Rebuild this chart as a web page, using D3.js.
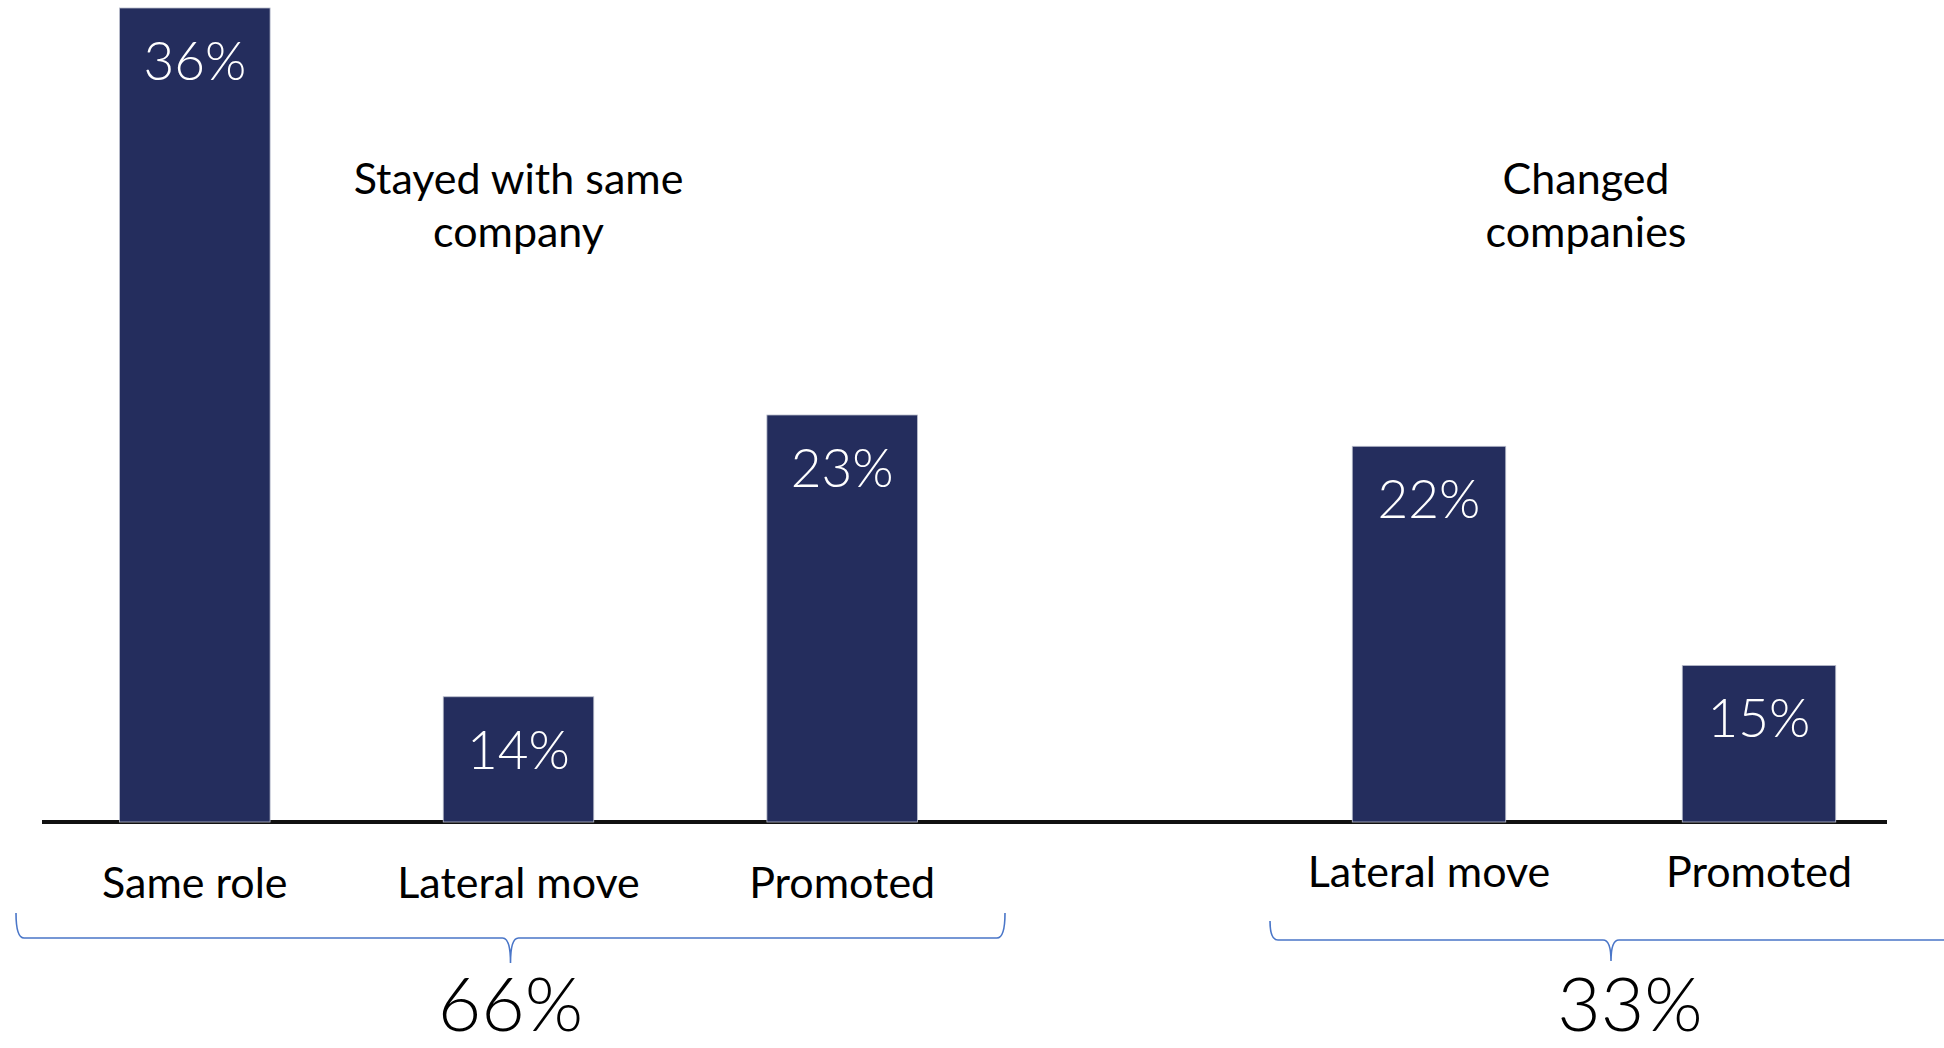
<!DOCTYPE html>
<html>
<head>
<meta charset="utf-8">
<script src="https://cdn.jsdelivr.net/npm/d3@7"></script>
<style>
  html, body { margin: 0; padding: 0; background: #ffffff; }
  svg { display: block; }
  text { font-family: Lato, "Noto Sans", sans-serif; }
</style>
</head>
<body>
<svg id="chart" width="1944" height="1048"></svg>
<script>
// Career outcomes, split by whether people stayed or changed companies
const groupNames = ["Stayed with same company", "Changed companies"];
const groupTitleLines = [["Stayed with same", "company"], ["Changed", "companies"]];
const groupTotals = [66, 33];
const categories = ["Same role", "Lateral move", "Promoted", "Lateral move", "Promoted"];
const categoryGroup = [0, 0, 0, 1, 1];
const values = [36, 14, 23, 22, 15];

// Layout
const W = 1944, H = 1048;
const baseY = 822;
const groupRanges = [[33, 1004], [1264, 1924]];
const braceSpans = [[16, 1005, 913, 938, 963], [1270, 1952, 921, 940, 961]];
const barColor = "#242d5d";

const svg = d3.select("#chart");

// Value axis starts at 10%
const y = d3.scaleLinear().domain([10, 36]).range([baseY, 8]);

// One band scale per group
const xScales = groupRanges.map((r, g) => {
  const dom = d3.range(categories.length).filter(i => categoryGroup[i] === g);
  return d3.scaleBand().domain(dom).range(r).paddingInner(0.535).paddingOuter(0.2675);
});
const xOf = i => xScales[categoryGroup[i]](i);
const bw = i => xScales[categoryGroup[i]].bandwidth();
const cx = i => xOf(i) + bw(i) / 2;

// Baseline
svg.append("line")
  .attr("x1", 42).attr("x2", 1887)
  .attr("y1", baseY).attr("y2", baseY)
  .attr("stroke", "#111").attr("stroke-width", 4);

const idx = d3.range(values.length);

// Bars
svg.selectAll("rect.bar").data(idx).join("rect")
  .attr("class", "bar")
  .attr("x", i => xOf(i))
  .attr("width", i => bw(i))
  .attr("y", i => y(values[i]))
  .attr("height", i => baseY - y(values[i]))
  .attr("fill", barColor)
  .attr("stroke", "#b8bccb").attr("stroke-width", 0.8);

// Value labels inside bars
svg.selectAll("text.val").data(idx).join("text")
  .attr("class", "val")
  .attr("x", i => cx(i))
  .attr("y", i => y(values[i]) + 72)
  .attr("text-anchor", "middle")
  .attr("fill", "#ffffff")
  .attr("font-size", 53)
  .attr("font-weight", 300)
  .text(i => values[i] + "%");

// Category labels
svg.selectAll("text.cat").data(idx).join("text")
  .attr("class", "cat")
  .attr("x", i => cx(i))
  .attr("y", i => categoryGroup[i] === 0 ? 898 : 887)
  .attr("text-anchor", "middle")
  .attr("fill", "#000")
  .attr("font-size", 43)
  .text(i => categories[i]);

// Group titles
groupTitleLines.forEach((lines, g) => {
  const r = groupRanges[g];
  const gx = g === 0 ? cx(1) : (r[0] + r[1]) / 2 - 8;
  const t = svg.append("text")
    .attr("text-anchor", "middle")
    .attr("font-size", 43)
    .attr("fill", "#000")
    .attr("y", 194);
  lines.forEach((ln, k) => {
    t.append("tspan").attr("x", gx).attr("dy", k === 0 ? 0 : 53).text(ln);
  });
});

// Braces under each group
const brace = ([x0, x1, yTop, yMid, yTip]) => {
  const xm = (x0 + x1) / 2;
  const p = d3.path();
  p.moveTo(x0, yTop);
  p.quadraticCurveTo(x0, yMid, x0 + 8, yMid);
  p.lineTo(xm - 8, yMid);
  p.quadraticCurveTo(xm, yMid, xm, yTip);
  p.quadraticCurveTo(xm, yMid, xm + 8, yMid);
  p.lineTo(x1 - 8, yMid);
  p.quadraticCurveTo(x1, yMid, x1, yTop);
  return p.toString();
};
svg.selectAll("path.brace").data(braceSpans).join("path")
  .attr("class", "brace")
  .attr("d", d => brace(d))
  .attr("fill", "none")
  .attr("stroke", "#4a76c8")
  .attr("stroke-width", 1.6);

// Group totals
svg.selectAll("text.total").data(groupTotals).join("text")
  .attr("class", "total")
  .attr("x", (d, g) => g === 0 ? (braceSpans[0][0] + braceSpans[0][1]) / 2 : 1630)
  .attr("y", 1031)
  .attr("text-anchor", "middle")
  .attr("font-size", 75)
  .attr("font-weight", 300)
  .attr("fill", "#000")
  .text(d => d + "%");
</script>
</body>
</html>
